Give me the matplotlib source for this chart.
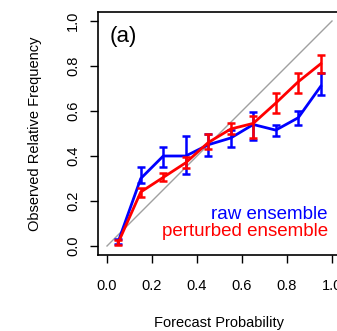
import numpy as np
import matplotlib
matplotlib.use("Agg")
import matplotlib.pyplot as plt

plt.rcParams['font.family'] = ['Liberation Sans', 'DejaVu Sans']

# forecast probability bins
prob = [0.05, 0.15, 0.25, 0.35, 0.45, 0.55, 0.65, 0.75, 0.85, 0.95]

# raw ensemble: observed frequency and error bar limits
raw_obs = [0.02, 0.30, 0.40, 0.40, 0.45, 0.48, 0.54, 0.515, 0.57, 0.71]
raw_lo = [0.01, 0.28, 0.35, 0.32, 0.40, 0.44, 0.47, 0.49, 0.54, 0.67]
raw_hi = [0.03, 0.35, 0.44, 0.49, 0.50, 0.515, 0.595, 0.54, 0.60, 0.77]

# perturbed ensemble
pert_obs = [0.015, 0.24, 0.305, 0.37, 0.46, 0.52, 0.545, 0.635, 0.73, 0.81]
pert_lo = [0.005, 0.22, 0.29, 0.345, 0.43, 0.50, 0.48, 0.59, 0.68, 0.77]
pert_hi = [0.025, 0.26, 0.325, 0.395, 0.50, 0.545, 0.58, 0.68, 0.77, 0.85]

ticks = [0.0, 0.2, 0.4, 0.6, 0.8, 1.0]
tick_labels = ["0.0", "0.2", "0.4", "0.6", "0.8", "1.0"]

fig = plt.figure(figsize=(3.37, 3.31), dpi=100)
ax = fig.add_axes([98 / 337, 76 / 331, 243 / 337, 243 / 331])

# perfect reliability diagonal
ax.plot([0, 1], [0, 1], color='#a0a0a0', lw=1.0, zorder=1)


def draw_series(obs, lo, hi, color, z):
    obs = np.array(obs)
    yerr = [obs - np.array(lo), np.array(hi) - obs]
    ax.errorbar(prob, obs, yerr=yerr, color=color, lw=2.0, elinewidth=1.8,
                capsize=2.6, capthick=1.8, zorder=z)


draw_series(raw_obs, raw_lo, raw_hi, '#0000ff', 2)
draw_series(pert_obs, pert_lo, pert_hi, '#ff0000', 3)

ax.set_xlim(-0.04, 1.04)
ax.set_ylim(-0.04, 1.04)
ax.set_xticks(ticks)
ax.set_xticklabels(tick_labels)
ax.set_yticks(ticks)
ax.set_yticklabels(tick_labels, rotation=90, va='center')
ax.tick_params(direction='out', length=6, width=1.0, labelsize=10.5,
               colors='black')
ax.tick_params(axis='x', pad=11)
ax.tick_params(axis='y', pad=7)
for sp in ax.spines.values():
    sp.set_linewidth(1.2)

ax.set_xlabel("Forecast Probability", fontsize=10.5)
ax.xaxis.set_label_coords(0.5, -0.252)
ax.set_ylabel("Observed Relative Frequency", fontsize=10.5)
ax.yaxis.set_label_coords(-0.232, 0.5)

ax.text(0.013, 0.907, "(a)", fontsize=16, va='baseline', ha='left')
ax.text(0.982, 0.12, "raw ensemble", color='#0000ff', fontsize=13.5,
        ha='right', va='baseline')
ax.text(0.982, 0.044, "perturbed ensemble", color='#ff0000', fontsize=13.5,
        ha='right', va='baseline')

fig.savefig("out.png", dpi=100)
